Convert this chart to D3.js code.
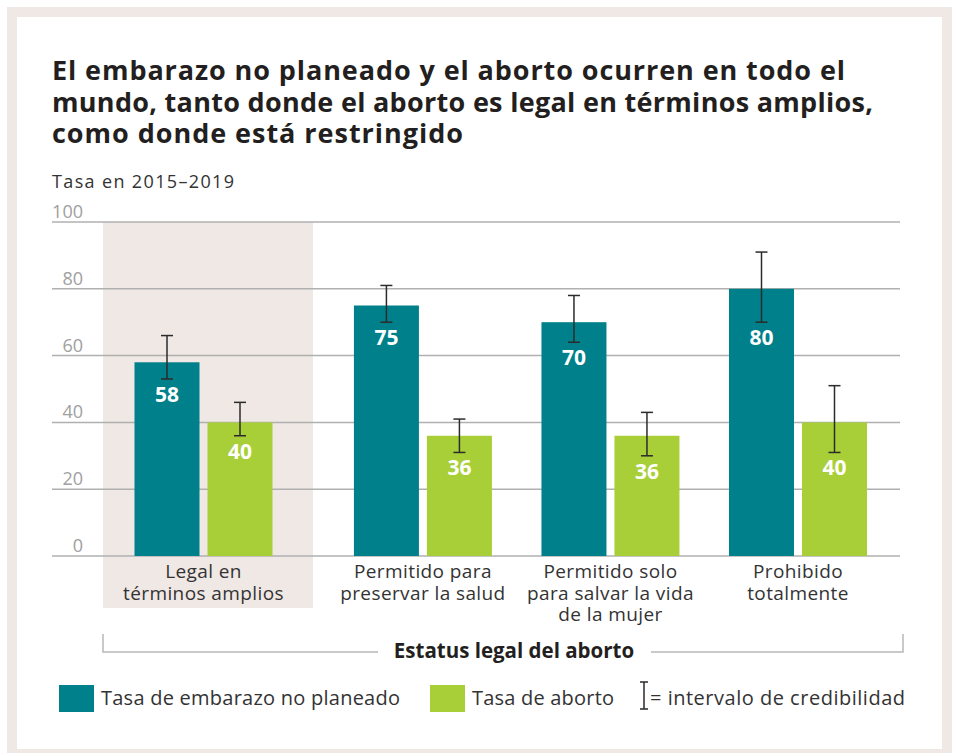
<!DOCTYPE html>
<html>
<head>
<meta charset="utf-8">
<script src="https://cdn.jsdelivr.net/npm/d3@7"></script>
<style>
  body { margin: 0; background: #fff; }
  svg text { font-family: "Open Sans", sans-serif; }
</style>
</head>
<body>
<svg id="chart" width="956" height="753"></svg>
<script>
// categories (multi-line labels)
var categories = [
    ["Legal en", "términos amplios"],
    ["Permitido para", "preservar la salud"],
    ["Permitido solo", "para salvar la vida", "de la mujer"],
    ["Prohibido", "totalmente"]
];
// unplanned pregnancy rate + credibility interval
var embarazo = [58, 75, 70, 80];
var embarazoLo = [53, 70, 64, 70];
var embarazoHi = [66, 81, 78, 91];
// abortion rate + credibility interval
var aborto = [40, 36, 36, 40];
var abortoLo = [36, 31, 30, 31];
var abortoHi = [46, 41, 43, 51];
var yTicks = [0, 20, 40, 60, 80, 100];

var teal = "#00808a", green = "#a8cf38", pink = "#f0e8e5";

var svg = d3.select("#chart");

// frame
svg.append("rect").attr("x", 7).attr("y", 7).attr("width", 945).attr("height", 760)
    .attr("fill", pink);
svg.append("rect").attr("x", 17).attr("y", 17).attr("width", 925).attr("height", 732)
    .attr("fill", "#fff");

// title (widths stretched to the original's wider typeface)
var title = ["El embarazo no planeado y el aborto ocurren en todo el",
    "mundo, tanto donde el aborto es legal en términos amplios,",
    "como donde está restringido"];
var titleW = [793, 821, 411];
svg.append("g").selectAll("text").data(title).enter().append("text")
    .attr("x", 52).attr("y", (d, i) => 80 + i * 31.5)
    .attr("font-size", 27).attr("font-weight", 700).attr("fill", "#231f20")
    .attr("textLength", (d, i) => titleW[i]).attr("lengthAdjust", "spacing")
    .text(d => d);

svg.append("text").attr("x", 52).attr("y", 188)
    .attr("font-size", 18).attr("fill", "#333")
    .attr("textLength", 182).attr("lengthAdjust", "spacing")
    .text("Tasa en 2015–2019");

var y = d3.scaleLinear().domain([0, 100]).range([556, 222]);
// group centers: first group sits in its own shaded band, with an extra gap after it
var gx = d3.scaleLinear().domain([0, 3.17]).range([203.5, 798]);
function cx(i) { return gx(i === 0 ? 0 : i + 0.17); }
var barW = 65, half = 36.5;

// shaded band for first group
svg.append("rect").attr("x", cx(0) - 100.5).attr("y", y(100))
    .attr("width", 210).attr("height", 608 - y(100)).attr("fill", pink);

// grid
var grid = svg.append("g");
grid.selectAll("line").data(yTicks).enter().append("line")
    .attr("x1", 52).attr("x2", 900)
    .attr("y1", d => y(d)).attr("y2", d => y(d))
    .attr("stroke", "#b0b0b0").attr("stroke-width", 1.5);
grid.selectAll("text").data(yTicks).enter().append("text")
    .attr("x", 83).attr("y", d => y(d) - 4).attr("text-anchor", "end")
    .attr("font-size", 18).attr("fill", "#a0a0a0")
    .text(d => d);

var idx = d3.range(categories.length);

function drawSeries(vals, lo, hi, color, offset) {
    var g = svg.append("g");
    g.selectAll("rect").data(idx).enter().append("rect")
        .attr("x", i => cx(i) + offset - barW / 2)
        .attr("width", barW)
        .attr("y", i => y(vals[i]))
        .attr("height", i => y(0) - y(vals[i]))
        .attr("fill", color);
    var eb = g.selectAll("g.eb").data(idx).enter().append("g")
        .attr("stroke", "#2b2b2b").attr("stroke-width", 1.5);
    eb.append("line").attr("x1", i => cx(i) + offset).attr("x2", i => cx(i) + offset)
        .attr("y1", i => y(lo[i])).attr("y2", i => y(hi[i]));
    eb.append("line").attr("x1", i => cx(i) + offset - 6).attr("x2", i => cx(i) + offset + 6)
        .attr("y1", i => y(lo[i])).attr("y2", i => y(lo[i]));
    eb.append("line").attr("x1", i => cx(i) + offset - 6).attr("x2", i => cx(i) + offset + 6)
        .attr("y1", i => y(hi[i])).attr("y2", i => y(hi[i]));
    g.selectAll("text").data(idx).enter().append("text")
        .attr("x", i => cx(i) + offset).attr("y", i => y(lo[i]) + 23)
        .attr("text-anchor", "middle").attr("font-size", 21).attr("font-weight", 700)
        .attr("fill", "#fff")
        .text(i => vals[i]);
}
drawSeries(embarazo, embarazoLo, embarazoHi, teal, -half);
drawSeries(aborto, abortoLo, abortoHi, green, half);

// category labels
var cl = svg.append("g").selectAll("text").data(idx).enter().append("text")
    .attr("text-anchor", "middle").attr("font-size", 19).attr("fill", "#333")
    .attr("letter-spacing", 0.4);
cl.selectAll("tspan").data(i => categories[i].map(t => ({t: t, i: i}))).enter().append("tspan")
    .attr("x", d => cx(d.i)).attr("y", (d, k) => 578 + k * 21.5)
    .text(d => d.t);

// bracket
var bl = cx(0) - 100.5, br = 903;
svg.append("path")
    .attr("d", `M${bl},634V652H378M651,652H${br}V634`)
    .attr("fill", "none").attr("stroke", "#b8b8b8").attr("stroke-width", 1.5);
svg.append("text").attr("x", 514).attr("y", 658).attr("text-anchor", "middle")
    .attr("font-size", 20.5).attr("font-weight", 700).attr("fill", "#231f20")
    .text("Estatus legal del aborto");

// legend
var leg = svg.append("g");
leg.append("rect").attr("x", 59).attr("y", 685).attr("width", 35).attr("height", 27).attr("fill", teal);
leg.append("text").attr("x", 101).attr("y", 705).attr("font-size", 20).attr("fill", "#333")
    .attr("textLength", 299).attr("lengthAdjust", "spacing")
    .text("Tasa de embarazo no planeado");
leg.append("rect").attr("x", 430).attr("y", 685).attr("width", 35).attr("height", 27).attr("fill", green);
leg.append("text").attr("x", 472).attr("y", 705).attr("font-size", 20).attr("fill", "#333")
    .attr("textLength", 142).attr("lengthAdjust", "spacing")
    .text("Tasa de aborto");
leg.append("path").attr("d", "M640,682H648M644,682V709M640,709H648")
    .attr("fill", "none").attr("stroke", "#2b2b2b").attr("stroke-width", 1.5);
leg.append("text").attr("x", 650).attr("y", 705).attr("font-size", 20).attr("fill", "#333")
    .attr("textLength", 255).attr("lengthAdjust", "spacing")
    .text("= intervalo de credibilidad");
</script>
</body>
</html>
